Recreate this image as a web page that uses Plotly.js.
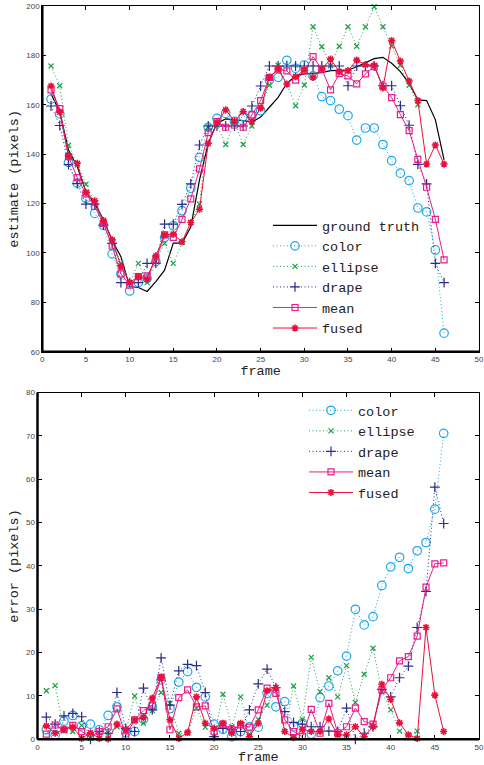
<!DOCTYPE html>
<html>
<head>
<meta charset="utf-8">
<script src="https://cdn.plot.ly/plotly-3.0.1.min.js"></script>
<style>html,body{margin:0;padding:0;background:#fff;}#chart{width:484px;height:765px;}</style>
</head>
<body>
<div id="chart"></div>
<script>
// ---------- data ----------
const frames = Array.from({length: 46}, (_, i) => i + 1);
const framesEllipse = frames.slice(0, 43);

const truthEst = [164.5,157,141.7,135,124.8,120,113.4,105,98.5,86.4,86,84.4,88.4,93,104,104,110.5,129.6,144.4,152.5,154.3,154,153.6,153,155,159,163,168.7,171.7,172.5,172.7,173,173.8,173.8,174,175.4,177,178.7,179.2,176.8,173.4,168.7,162,161.7,154,137.7];
const colorEst = [162.3,156.3,136.7,128.3,122.1,116,111.2,99.6,91.5,84.6,88,89.7,96.5,106.2,111,117.1,126.2,138.7,150.9,154.5,156.5,153.3,155.2,155.7,157.6,170,171.1,178,174.8,176.1,171.7,163.3,161.7,158.2,155.6,145.7,150.6,150.6,143.9,137.4,132.3,129.3,118.2,116.6,101.2,67.5];
const ellipseEst = [175.7,167.7,143.6,135.6,127.8,120.1,112.5,105,95.8,88,95.8,88,96.5,103.9,95.8,104.2,112.3,119.8,151.1,151.8,143.9,152.8,143.9,151.4,159,167.9,176,168.4,159.6,168,191.6,183.5,175.8,183.7,191.6,183.7,191.6,199.7,191.6,183.8,176,167.9,160];
const drapeEst = [159.5,151.6,135.8,128.1,119.8,119.8,111.3,103.9,88,88,88,95.8,95.8,111.7,111.7,119.7,128,143.7,151.4,151.4,151.4,151.4,151.4,159.5,167.6,175.7,175.7,175.7,175.7,175.7,175.7,175.7,175.7,175.7,167.7,175.7,175.7,175.7,167.7,167.7,159.6,151.7,135.9,128,95.8,88];
const meanEst = [166,158.4,139,130.5,123.9,118.8,112,102.8,91.5,87,90.4,90.7,97.2,107.3,106.3,113.6,121.9,134,148.7,153.2,150.9,151.8,150.9,155.9,161.7,171.1,174.4,173.7,170,173.7,179.5,174.4,166,172.6,171.7,168.5,172.5,175.4,167.6,162.9,156,149.5,137.9,126.6,113.6,97.2];
const fusedEst = [167.6,157,139.3,136.3,124.4,121.1,113.1,105.3,94.7,88,90.4,89.3,98.8,107.3,107.6,104.5,112.3,117.7,144.4,152.8,157.9,153.4,157.2,153.2,158.6,171.1,174.5,168.4,171.4,174.1,171.1,174.4,178.5,173.4,173.8,178.1,176.2,176,166.8,186,177.7,169.6,161.7,136,143.7,136];

const colorErr = [2.2,1.0,4.2,5.5,3.1,3.5,2.2,5.5,7.5,1.5,1.8,4.6,7.5,13.7,7.1,13.2,15.6,12,9.8,3.5,2.3,0.6,1.8,2.9,2.8,10.6,7.5,8.7,2.9,3.7,1.2,9.6,12.3,15.8,19.2,30,26.4,28.3,35.5,39.8,42,39.4,43.5,45.4,53.1,70.6];
const ellipseErr = [11.2,12.4,2.0,1.8,3.2,0.2,1.5,1.5,2.9,1.8,10,3.7,6.6,10.8,8.3,1.4,1.4,7.2,2.8,0.6,10.4,2.9,9.8,1.2,4.6,7.9,12,1.8,12.3,4.6,18.9,11,14.2,9.8,17,8.5,15,21,11,6.8,1.9,1.0,1.9];
const drapeErr = [5.1,3.5,5.4,6,5.2,0,1.8,1.4,10.8,2.5,1.8,11.8,6.8,18.8,7.9,15.8,17.3,17,10.8,0.6,2.5,2.2,1.8,6.8,12.8,16.2,11.9,6.4,3.9,3.5,2.9,2.9,1.9,1.8,7.2,0,1.4,2.9,11.5,9.8,14.2,16.9,25.8,34.1,58.2,49.8];
const meanErr = [1.2,3.3,2.2,3.2,1.8,0.6,1.8,2.9,7,0.8,4.5,6.6,7.9,14.3,2.2,9.6,11.4,7.5,7.7,1.8,3.5,2.3,3.3,2.8,6.8,11.8,10.6,4.5,1.8,0.6,6.9,1.4,8.3,1.5,2.9,7.2,4.1,3.5,11.4,14.2,18.1,19.1,23.8,35.1,40.5,40.7];
const fusedErr = [3.1,1.4,2.3,2.8,0.2,1.5,0.2,0.1,3.5,2.3,4.5,5,9.5,14.3,4.5,0.2,1.6,9.8,3.7,2.5,3.7,1.4,3.7,0.6,3.7,11.2,11.9,1.8,0.4,2.3,1.8,1.8,4.7,1.0,1.0,2.9,0.6,2.9,12.7,9.2,3.8,1.0,0.2,25.8,10.2,1.8];

const xTicks = [0,5,10,15,20,25,30,35,40,45,50];
const estTicks = [60,80,100,120,140,160,180,200];
const errTicks = [0,10,20,30,40,50,60,70,80];

// ---------- styles ----------
const C = {truth:'#000000', color:'#1aa7ec', ellipse:'#1e9e4a', drape:'#2b2b8c', mean:'#e61e8c', fused:'#e8103a'};
const mono = '"Liberation Mono", "DejaVu Sans Mono", monospace';
const sans = '"Liberation Sans", Arial, sans-serif';
const DOT = '1px,2.5px';

function series(name, x, y, key, dash, sym, size, xa, ya, leg, lw) {
  const t = {
    x: x, y: y, name: name, type: 'scatter', mode: sym ? 'lines+markers' : 'lines',
    xaxis: xa, yaxis: ya, legend: leg, cliponaxis: false,
    line: {color: C[key], width: lw || 1, dash: dash}
  };
  if (sym) t.marker = {symbol: sym, size: size, color: C[key], line: {color: C[key], width: sym === 'asterisk-open' ? 1.6 : 1.2}};
  return t;
}

const traces = [
  series('ground truth', frames, truthEst, 'truth', 'solid', null, 0, 'x', 'y', 'legend', 1.2),
  series('color', frames, colorEst, 'color', DOT, 'circle-open', 8.5, 'x', 'y', 'legend'),
  series('ellipse', framesEllipse, ellipseEst, 'ellipse', DOT, 'x-thin-open', 5, 'x', 'y', 'legend'),
  series('drape', frames, drapeEst, 'drape', DOT, 'cross-thin-open', 7, 'x', 'y', 'legend'),
  series('mean', frames, meanEst, 'mean', 'solid', 'square-open', 6, 'x', 'y', 'legend'),
  series('fused', frames, fusedEst, 'fused', 'solid', 'asterisk-open', 6, 'x', 'y', 'legend'),

  series('color', frames, colorErr, 'color', DOT, 'circle-open', 8.5, 'x2', 'y2', 'legend2'),
  series('ellipse', framesEllipse, ellipseErr, 'ellipse', DOT, 'x-thin-open', 5, 'x2', 'y2', 'legend2'),
  series('drape', frames, drapeErr, 'drape', DOT, 'cross-thin-open', 7, 'x2', 'y2', 'legend2'),
  series('mean', frames, meanErr, 'mean', 'solid', 'square-open', 6, 'x2', 'y2', 'legend2'),
  series('fused', frames, fusedErr, 'fused', 'solid', 'asterisk-open', 6, 'x2', 'y2', 'legend2')
];

const W = 484, H = 765;
function axisBase(range, ticks, dom, anchor) {
  return {
    range: range, domain: dom, anchor: anchor, tickvals: ticks, ticktext: ticks.map(String),
    showgrid: false, zeroline: false, showline: true, linecolor: '#000', linewidth: 1,
    mirror: 'ticks', ticks: 'inside', ticklen: 4, tickwidth: 1, tickcolor: '#000',
    tickfont: {family: sans, size: 8, color: '#444'}, automargin: false, fixedrange: true
  };
}

const titleFont = {family: mono, size: 13.5, color: '#222'};
const xTop = axisBase([0, 50], xTicks, [42.3/W, 479/W], 'y');
xTop.title = {text: 'frame', font: titleFont, standoff: 2};
const yTop = axisBase([60, 200], estTicks, [(H-351.7)/H, (H-6)/H], 'x');
yTop.title = {text: 'estimate (pixels)', font: titleFont, standoff: 4};

const xBot = axisBase([0, 50], xTicks, [37.5/W, 479/W], 'y2');
xBot.title = {text: 'frame', font: titleFont, standoff: 5};
const yBot = axisBase([0, 80], errTicks, [(H-739.3)/H, (H-392.6)/H], 'x2');
yBot.title = {text: 'error (pixels)', font: titleFont, standoff: 4};

function thick(xr, yr) {
  return [
    {type: 'line', xref: xr + ' domain', yref: yr + ' domain', x0: 0, x1: 0, y0: 0, y1: 1, line: {color: '#000', width: 2.5}, layer: 'above'},
    {type: 'line', xref: xr + ' domain', yref: yr + ' domain', x0: 0, x1: 1, y0: 0, y1: 0, line: {color: '#000', width: 2.5}, layer: 'above'}
  ];
}

const legFont = {family: mono, size: 13.5, color: '#222'};
const layout = {
  width: W, height: H, margin: {l: 0, r: 0, t: 0, b: 0},
  paper_bgcolor: '#fff', plot_bgcolor: '#fff', showlegend: true,
  xaxis: xTop, yaxis: yTop, xaxis2: xBot, yaxis2: yBot,
  legend: {x: 268/W, y: (H-210)/H, xanchor: 'left', yanchor: 'top', bgcolor: 'rgba(0,0,0,0)', font: legFont, itemwidth: 44, tracegroupgap: 0},
  legend2: {x: 304/W, y: (H-395)/H, xanchor: 'left', yanchor: 'top', bgcolor: 'rgba(0,0,0,0)', font: legFont, itemwidth: 44, tracegroupgap: 0},
  shapes: thick('x', 'y').concat(thick('x2', 'y2'))
};

Plotly.newPlot('chart', traces, layout, {staticPlot: true, displayModeBar: false});
</script>
</body>
</html>
